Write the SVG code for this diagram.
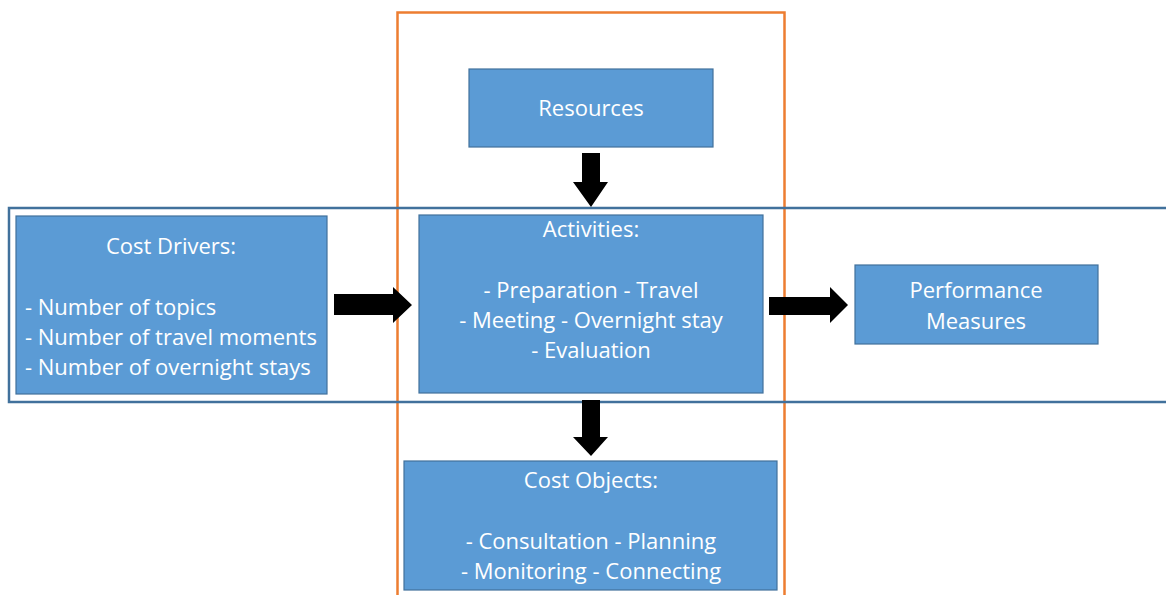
<svg xmlns="http://www.w3.org/2000/svg" width="1166" height="595" viewBox="0 0 1166 595">
<style>
.box{fill:#5B9BD5;stroke:#41719C;stroke-width:1.2}
.t{fill:#fff;font-family:"Open Sans","Liberation Sans",sans-serif;font-size:22px}
.c{text-anchor:middle}
.arrow{fill:#000}
</style>
<rect width="1166" height="595" fill="#fff"/>
<g id="frames">
<rect x="397.5" y="12.5" width="387" height="600" fill="none" stroke="#ED7D31" stroke-width="2.5"/>
<rect x="9" y="208" width="1170" height="194" fill="none" stroke="#41719C" stroke-width="2.5"/>
</g>
<g id="connectors">
<polygon class="arrow" points="582,153 600,153 600,182 608,182 591,207 573,182 582,182"/>
<polygon class="arrow" points="582,400 600,400 600,437 608,437 591,456 573,437 582,437"/>
<polygon class="arrow" points="334,294 393,294 393,287 412,305 393,323 393,315 334,315"/>
<polygon class="arrow" points="769,297 830,297 830,287 848,305 830,323 830,315 769,315"/>
</g>
<g id="resources">
<rect class="box" x="469" y="69" width="244" height="78"/>
<text class="t c" x="591" y="116">Resources</text>
</g>
<g id="cost-drivers">
<rect class="box" x="16" y="216" width="311" height="178"/>
<text class="t c" x="171" y="254">Cost Drivers:</text>
<text class="t" x="25" y="315">- Number of topics</text>
<text class="t" x="25" y="345">- Number of travel moments</text>
<text class="t" x="25" y="375">- Number of overnight stays</text>
</g>
<g id="activities">
<rect class="box" x="419" y="215" width="344" height="178"/>
<text class="t c" x="591" y="237">Activities:</text>
<text class="t c" x="591" y="298">- Preparation - Travel</text>
<text class="t c" x="591" y="328">- Meeting - Overnight stay</text>
<text class="t c" x="591" y="358">- Evaluation</text>
</g>
<g id="performance">
<rect class="box" x="855" y="265" width="243" height="79"/>
<text class="t c" x="976" y="298">Performance</text>
<text class="t c" x="976" y="329">Measures</text>
</g>
<g id="cost-objects">
<rect class="box" x="404" y="461" width="373" height="129"/>
<text class="t c" x="591" y="488">Cost Objects:</text>
<text class="t c" x="591" y="549">- Consultation - Planning</text>
<text class="t c" x="591" y="579">- Monitoring - Connecting</text>
</g>
</svg>
